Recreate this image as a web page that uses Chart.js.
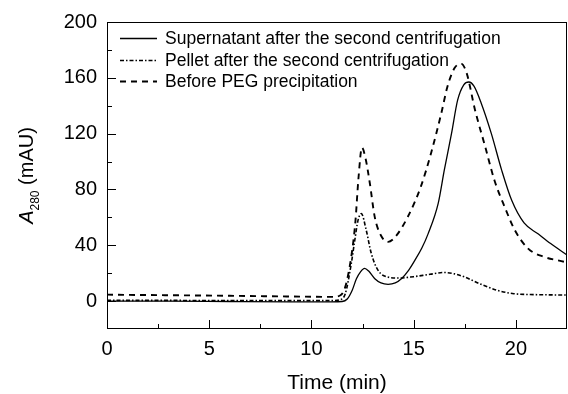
<!DOCTYPE html>
<html>
<head>
<meta charset="utf-8">
<script src="https://cdn.jsdelivr.net/npm/chart.js@4/dist/chart.umd.min.js"></script>
<style>
  html, body { margin: 0; padding: 0; background: #ffffff; }
  #wrap { width: 568px; height: 394px; }
</style>
</head>
<body>
<div id="wrap"><canvas id="c" width="568" height="394"></canvas></div>
<script>
// ---- Data ----
const seriesNames = [
  'Supernatant after the second centrifugation',
  'Pellet after the second centrifugation',
  'Before PEG precipitation'
];

const supTime = [0, 3, 6, 9, 11, 11.5, 11.75, 12.0, 12.2, 12.4, 12.6, 12.8, 13.1, 13.4, 13.75, 14.1, 14.4, 14.75, 15.05, 15.4, 15.7, 16.2, 16.5, 16.85, 17.15, 17.45, 17.7, 17.95, 18.3, 18.8, 19.3, 19.8, 20.4, 21.1, 21.7, 22.5];
const supValues = [0, 0, -0.3, -0.5, -0.5, -0.3, 1.5, 8, 16, 21, 23.5, 21.5, 16, 13, 12, 13, 16, 22, 29, 38, 48, 70, 94, 120, 144, 155, 157, 154, 142, 120, 94, 72, 56, 48, 41.2, 33];

const pelTime = [0, 3, 6, 9, 11, 11.4, 11.65, 11.95, 12.12, 12.28, 12.44, 12.68, 12.93, 13.26, 13.74, 14.3, 15.0, 15.8, 16.5, 17.0, 17.5, 18.3, 19.1, 19.9, 20.7, 21.5, 22.5];
const pelValues = [0.5, 0.5, 0.3, 0.3, 0.3, 1, 5, 27, 43.6, 58, 62.7, 50.8, 34, 22, 17.2, 16.5, 17.5, 19.2, 20.5, 19.5, 17.2, 12, 7.7, 5.3, 4.7, 4.5, 4.3];

const pegTime = [0, 3, 6, 9, 11, 11.4, 11.65, 11.95, 12.15, 12.3, 12.47, 12.65, 12.85, 13.1, 13.4, 13.75, 14.1, 14.7, 15.35, 15.85, 16.35, 16.65, 17.0, 17.33, 17.6, 18.0, 18.5, 18.95, 19.45, 19.95, 20.6, 21.4, 22.4, 22.5];
const pegValues = [4.6, 4.2, 3.8, 3.3, 3.0, 4, 10, 32, 57, 88, 110, 102, 85, 60, 47, 42.4, 46, 60, 82, 106, 134.5, 153.6, 167, 170, 163, 137, 110.6, 86.6, 67.5, 50.8, 37.6, 31.6, 28, 27.5];

const xTicks = [0, 5, 10, 15, 20];
const xMinorTicks = [2.5, 7.5, 12.5, 17.5];
const yTicks = [0, 40, 80, 120, 160, 200];
const yMinorTicks = [20, 60, 100, 140, 180];

function toPoints(xs, ys) { return xs.map((x, i) => ({ x: x, y: ys[i] })); }

const FONT = "'Liberation Sans', Arial, sans-serif";

const styles = [
  { borderDash: [], borderWidth: 1.3 },
  { borderDash: [4, 2, 1.5, 2], borderWidth: 1.6 },
  { borderDash: [6, 5], borderWidth: 1.9 }
];

const framePlugin = {
  id: 'frameAndExtras',
  afterDraw(chart) {
    const ctx = chart.ctx;
    const a = chart.chartArea;
    const xs = chart.scales.x, ys = chart.scales.y;
    ctx.save();
    ctx.strokeStyle = '#000';
    ctx.lineWidth = 1;
    ctx.setLineDash([]);
    // frame
    ctx.strokeRect(Math.round(a.left) + 0.5, Math.round(a.top) + 0.5, Math.round(a.right - a.left) - 1, Math.round(a.bottom - a.top) - 1);
    // x ticks (inward)
    ctx.beginPath();
    xTicks.forEach(v => { const p = Math.round(xs.getPixelForValue(v)) + 0.5; ctx.moveTo(p, a.bottom); ctx.lineTo(p, a.bottom - 9); });
    xMinorTicks.forEach(v => { const p = Math.round(xs.getPixelForValue(v)) + 0.5; ctx.moveTo(p, a.bottom); ctx.lineTo(p, a.bottom - 5); });
    yTicks.forEach(v => { const p = Math.round(ys.getPixelForValue(v)) + 0.5; ctx.moveTo(a.left, p); ctx.lineTo(a.left + 9, p); });
    yMinorTicks.forEach(v => { const p = Math.round(ys.getPixelForValue(v)) + 0.5; ctx.moveTo(a.left, p); ctx.lineTo(a.left + 5, p); });
    ctx.stroke();

    // legend
    const rows = [38.5, 60.5, 81.5];
    chart.data.datasets.forEach((ds, i) => {
      const y = rows[i];
      ctx.beginPath();
      ctx.setLineDash(ds.borderDash || []);
      ctx.lineWidth = ds.borderWidth;
      ctx.moveTo(120, y);
      ctx.lineTo(157, y);
      ctx.stroke();
      ctx.setLineDash([]);
      ctx.fillStyle = '#000';
      ctx.font = '17.5px ' + FONT;
      ctx.textBaseline = 'middle';
      ctx.textAlign = 'left';
      ctx.fillText(ds.label, 165, y + 0.5);
    });

    // y axis title: A_280 (mAU), rotated
    const cy = (a.top + a.bottom) / 2;
    ctx.translate(33, cy);
    ctx.rotate(-Math.PI / 2);
    ctx.textBaseline = 'alphabetic';
    ctx.textAlign = 'left';
    const mainFont = '20px ' + FONT;
    const italFont = 'italic 20px ' + FONT;
    const subFont = '12px ' + FONT;
    ctx.font = italFont; const wA = ctx.measureText('A').width;
    ctx.font = subFont; const wS = ctx.measureText('280').width;
    ctx.font = mainFont; const wR = ctx.measureText(' (mAU)').width;
    let x0 = -(wA + wS + wR) / 2;
    ctx.font = italFont; ctx.fillText('A', x0, 0); x0 += wA;
    ctx.font = subFont; ctx.fillText('280', x0, 6); x0 += wS;
    ctx.font = mainFont; ctx.fillText(' (mAU)', x0, 0);
    ctx.restore();
  }
};

const chart = new Chart(document.getElementById('c'), {
  type: 'scatter',
  data: {
    datasets: [
      { label: seriesNames[0], data: toPoints(supTime, supValues) },
      { label: seriesNames[1], data: toPoints(pelTime, pelValues) },
      { label: seriesNames[2], data: toPoints(pegTime, pegValues) }
    ].map((d, i) => Object.assign(d, {
      showLine: true,
      pointRadius: 0,
      borderColor: '#000',
      backgroundColor: '#000',
      cubicInterpolationMode: 'monotone',
      fill: false
    }, styles[i]))
  },
  options: {
    responsive: false,
    animation: false,
    devicePixelRatio: 1,
    layout: { padding: { top: 22, right: 1, left: 0, bottom: 0 } },
    plugins: { legend: { display: false }, tooltip: { enabled: false } },
    scales: {
      x: {
        type: 'linear', min: 0, max: 22.5,
        afterBuildTicks: s => { s.ticks = xTicks.map(v => ({ value: v })); },
        afterFit: s => { s.height = 65; },
        grid: { display: false, drawTicks: false },
        border: { display: false },
        ticks: { color: '#000', font: { family: FONT, size: 20 }, padding: 8, maxRotation: 0 },
        title: { display: true, text: 'Time (min)', color: '#000', font: { family: FONT, size: 21, lineHeight: 1 }, padding: { top: 0, bottom: 0 } }
      },
      y: {
        type: 'linear', min: -20, max: 200,
        afterBuildTicks: s => { s.ticks = yTicks.map(v => ({ value: v })); },
        afterFit: s => { s.width = 107; },
        grid: { display: false, drawTicks: false },
        border: { display: false },
        ticks: { color: '#000', font: { family: FONT, size: 20 }, padding: 10 }
      }
    }
  },
  plugins: [framePlugin]
});
</script>
</body>
</html>
